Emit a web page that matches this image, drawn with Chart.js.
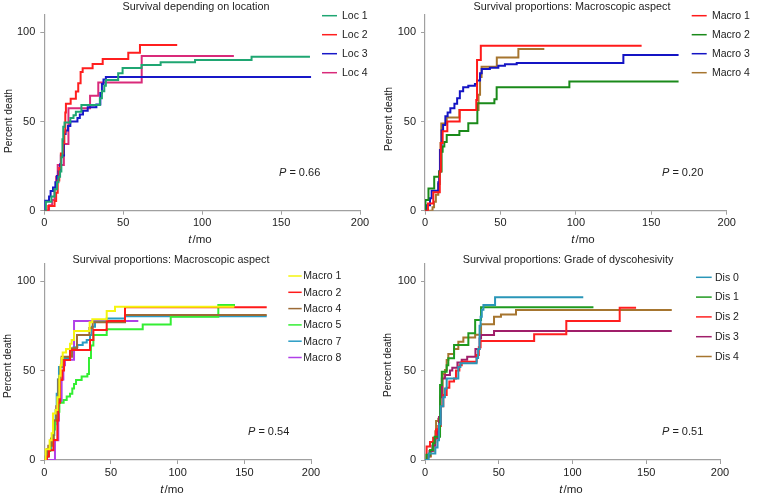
<!DOCTYPE html>
<html>
<head>
<meta charset="utf-8">
<script src="https://cdn.jsdelivr.net/npm/chart.js@4.4.1/dist/chart.umd.min.js"></script>
<style>
  body { margin: 0; background: #fff; width: 761px; height: 499px; position: relative; overflow: hidden; }
  canvas { position: absolute; }
</style>
</head>
<body>
<canvas id="loc" width="380" height="250" style="left:0;top:0"></canvas>
<canvas id="macroA" width="381" height="250" style="left:380px;top:0"></canvas>
<canvas id="macroB" width="380" height="249" style="left:0;top:250px"></canvas>
<canvas id="dis" width="381" height="249" style="left:380px;top:250px"></canvas>
<script>
// axis ticks shared by all four panels
const xTicks = [0, 50, 100, 150, 200];
const yTicks = [0, 50, 100];

// panel titles, legend labels and log-rank P values
const titles = ['Survival depending on location', 'Survival proportions: Macroscopic aspect',
                'Survival proportions: Macroscopic aspect', 'Survival proportions: Grade of dyscohesivity'];
const locLabels = ['Loc 1', 'Loc 2', 'Loc 3', 'Loc 4'];
const macroALabels = ['Macro 1', 'Macro 2', 'Macro 3', 'Macro 4'];
const macroBLabels = ['Macro 1', 'Macro 2', 'Macro 4', 'Macro 5', 'Macro 7', 'Macro 8'];
const disLabels = ['Dis 0', 'Dis 1', 'Dis 2', 'Dis 3', 'Dis 4'];
const pValues = ['0.66', '0.20', '0.54', '0.51'];

// step points [months, percent death]
const loc1 = [[0,0],[1,5],[4.5,8],[6.5,12],[8,16],[9,19],[10,22],[10.8,30],[11.5,40],[12,47],[12.8,49.5],[16.5,52],[18.5,53.5],[20,55.5],[23.5,59.3],[35.2,63],[36.5,67],[38,70],[39,73.3],[46.8,77],[49.6,80],[61.6,81.7],[73.7,83.2],[95.5,84.5],[131.3,86.3],[168.3,86.3]];
const loc2 = [[0,0],[2.5,2.6],[6.5,5.5],[7.5,10],[8.5,17],[9.5,24],[10.5,32],[12,38],[12.7,44],[13.3,55],[13.7,60],[16.7,62.7],[20,66.8],[21.5,71.5],[23,77.8],[24.3,79.9],[30.6,82.3],[37,85],[53.2,88.6],[60.6,92.9],[84.2,92.9]];
const loc3 = [[0,0],[0.5,5.6],[3,8],[4,11],[5.5,13],[7,16],[8,19.5],[9,22],[10,26],[10.5,31],[12.5,43],[13.5,45],[15,47.5],[16.5,50],[21,52],[22.5,54],[24.5,56],[27.5,58],[33,59.5],[35.5,66],[36.5,71],[37.5,73.5],[39,75],[169,75]];
const loc4 = [[0,0],[3,3],[5,6],[6.5,12],[7.5,19],[8.5,25.6],[12.4,37.4],[15.3,57.4],[29,64.5],[34.2,71.9],[61.7,86.7],[120.1,86.7]];

const macroA1 = [[0,0],[2,4],[5.5,10.3],[9.8,22],[10.5,38],[11.7,44.5],[14.8,50],[23,56.4],[34,62],[34.5,84.5],[37,92.5],[143.6,92.5]];
const macroA2 = [[0,0],[0.3,6],[2.3,12.5],[6.1,19.1],[9.4,22],[11,33],[11.7,36],[12.8,38.5],[14.4,42.5],[22.8,44.7],[28.7,49],[34.7,60.2],[46,62.5],[47.5,69.2],[95.7,72.5],[168.1,72.5]];
const macroA3 = [[0,0],[1,3],[3.3,7],[4.4,11.2],[8.8,16],[9.4,22],[9.9,34],[11,45],[12,48],[13.5,53],[15,55],[16.8,57.5],[19.5,60],[21.3,63],[23.1,67],[25.3,69.2],[28.7,70],[33.1,71],[34.5,73],[36.5,77],[37.6,79.4],[43,80.2],[48.6,81.2],[53,82.1],[60.8,82.8],[131.5,87.3],[168.1,87.3]];
const macroA4 = [[0,0],[5,2],[6,5],[7.2,9],[8.8,15],[9.8,22],[10.3,38],[10.8,48.9],[14.4,52.2],[22.8,56.5],[35.5,65],[36.5,75],[37.5,80.7],[47.6,85.9],[61.9,90.7],[79.1,90.7]];

const macroB1 = [[0,0],[1,6],[4,11],[5.5,15],[6.5,26],[8.5,28],[9.8,35],[11.3,47],[12.2,53],[13,57],[13.8,60],[16.3,62],[19.3,65],[20.5,67],[22.3,72],[34,77],[36,78.7],[46.8,83.3],[53,85.6],[142.5,85.6]];
const macroB2 = [[0,0],[2,2],[3.5,5.5],[6.8,11.2],[9.8,22],[10.5,32],[11.8,44.7],[13.5,50],[14.8,55.9],[19.3,61.5],[34.3,67],[36.8,72.6],[46.8,77.7],[60.5,85.4],[166.8,85.4]];
const macroB4 = [[0,0],[1,2],[2,6],[3,8],[5,12],[7,22],[9,30],[10.5,45],[12,52],[13,57.7],[20.8,62.4],[24.5,69.8],[33.8,73.7],[36.3,77],[60.5,81],[166.8,81]];
const macroB5 = [[0,0],[1.5,2],[3,5],[4.5,8],[6,12],[7,17],[8,22],[9.5,27],[11.3,32],[14.5,33.5],[16.8,35.5],[19.3,37],[21,40],[22.3,42.5],[23.8,44.7],[28,46.6],[32.3,48],[33.5,57],[35,64],[36.8,69.8],[46.8,73.1],[73.8,75.7],[94.8,80],[130.5,86.6],[143,86.6]];
const macroB7 = [[0,0],[1,2],[3,6],[5,10],[6.5,14],[7.5,20],[8.5,28],[9.3,37],[10.2,45],[11,52],[13,57],[19.3,62],[22,63],[24.8,64.2],[28.8,65.7],[31.8,67],[34.3,69.8],[35.5,74.5],[38,77.2],[46.8,79.1],[60.5,80.3],[166.8,80.3]];
const macroB8 = [[0,0],[8,11],[10.5,22],[11,33],[13,45],[14.3,53],[15.5,56],[22.3,77.7],[70.5,77.7]];

const dis0 = [[0,0],[2.5,3.6],[7,7],[8.5,11],[9.5,20],[10.7,30],[12.4,35],[13.5,40],[14.7,45.5],[22.6,52],[24,54],[35,57],[36,62],[37,75],[37.7,80],[38.5,84],[39.6,86.6],[47.5,90.9],[107.3,90.9]];
const dis1 = [[0,0],[1,3],[3.4,5.6],[5.3,9.3],[6.5,13],[10.2,41.9],[11.4,49.3],[14.7,53],[15.8,56.9],[19.7,64.2],[29.4,70.8],[34,78.2],[38,85.4],[114.2,85.4]];
const dis2 = [[0,0],[1.1,7.5],[3.4,10],[5.5,12.5],[7.5,17],[9,19],[10.7,30],[12.4,36.3],[14.7,40.4],[16.5,43.8],[19.7,45.6],[21,50],[23.3,53],[24.9,54.9],[35,58.6],[36.5,63],[37.7,66.5],[74,70.2],[95.8,77.6],[132,85.1],[143.1,85.1]];
const dis3 = [[0,0],[1.5,2],[3,5],[5,8],[7,12],[8.5,17],[9.5,24],[10.5,35],[11.4,45.6],[13.6,47.5],[16.9,50],[18.5,51.5],[22,54.4],[24.9,56],[28.6,57.7],[34.2,62],[37,67.9],[38,69.8],[46.8,72.1],[167.3,72.1]];
const dis4 = [[0,0],[2,2],[4,5],[6,10],[7,16],[7.5,21.8],[9,23],[10.5,36],[12,48],[13.6,50.3],[14.7,55.9],[15.8,59.2],[19.7,62],[22.6,66.1],[26,68.4],[34,70],[38,75.9],[46.8,80],[51.5,81.3],[61.7,83.8],[167.3,83.8]];

const FONT = '"Liberation Sans", Arial, sans-serif';
const TEXT = '#222';
const AXIS = '#a0a0a0';

// draws title, legend, axis titles and P value at fixed spots
const panelText = {
  id: 'panelText',
  afterDraw(chart, args, o) {
    const ctx = chart.ctx;
    ctx.save();
    ctx.fillStyle = TEXT;

    ctx.font = '10.8px ' + FONT;
    ctx.textAlign = 'center';
    ctx.textBaseline = 'alphabetic';
    ctx.fillText(o.title, o.titleX, o.titleY);

    // legend
    ctx.font = '10.5px ' + FONT;
    ctx.textAlign = 'left';
    ctx.textBaseline = 'middle';
    chart.data.datasets.forEach((ds, i) => {
      const y = o.legendY + i * o.legendGap;
      ctx.strokeStyle = ds.borderColor;
      ctx.lineWidth = 1.5;
      ctx.beginPath();
      ctx.moveTo(o.legendX, y);
      ctx.lineTo(o.legendX + o.legendLen, y);
      ctx.stroke();
      ctx.fillText(ds.label, o.legendTextX, y + 0.5);
    });

    // y title
    ctx.save();
    ctx.translate(o.yTitleX, o.yTitleY);
    ctx.rotate(-Math.PI / 2);
    ctx.textAlign = 'center';
    ctx.font = '10.3px ' + FONT;
    ctx.fillText('Percent death', 0, 0);
    ctx.restore();

    // x title: italic t + /mo
    ctx.textBaseline = 'alphabetic';
    ctx.font = 'italic 11.5px ' + FONT;
    const tW = ctx.measureText('t').width + 1;
    ctx.font = '11.5px ' + FONT;
    const rest = '/mo';
    const rW = ctx.measureText(rest).width;
    const x0 = o.xTitleX - (tW + rW) / 2;
    ctx.font = 'italic 11.5px ' + FONT;
    ctx.fillText('t', x0, o.xTitleY);
    ctx.font = '11.5px ' + FONT;
    ctx.fillText(rest, x0 + tW, o.xTitleY);

    // P value
    ctx.font = 'italic 11px ' + FONT;
    ctx.fillText('P', o.pX, o.pY);
    const pW = ctx.measureText('P').width;
    ctx.font = '11px ' + FONT;
    ctx.fillText(' = ' + o.p, o.pX + pW, o.pY);
    ctx.restore();
  }
};

function makePanel(id, series, labels, colors, box, text) {
  const canvas = document.getElementById(id);
  new Chart(canvas, {
    type: 'line',
    data: {
      datasets: series.map((s, i) => ({
        label: labels[i],
        data: s.map(p => ({ x: p[0], y: p[1] })),
        borderColor: colors[i],
        borderWidth: 2,
        stepped: true,
        pointRadius: 0,
        fill: false
      }))
    },
    options: {
      responsive: false,
      animation: false,
      devicePixelRatio: 1,
      layout: {
        padding: { left: 0, top: box.top, right: canvas.width - box.right, bottom: canvas.height - box.bottom - 30 }
      },
      plugins: { legend: { display: false }, tooltip: { enabled: false }, panelText: text },
      scales: {
        x: {
          type: 'linear', min: 0, max: 200,
          afterFit: s => { s.height = 30; },
          afterBuildTicks: s => { s.ticks = xTicks.map(v => ({ value: v })); },
          grid: { drawOnChartArea: false, color: AXIS, tickLength: 4 },
          border: { color: AXIS, width: 1.2 },
          ticks: { color: TEXT, font: { family: FONT, size: 11 }, padding: 2 }
        },
        y: {
          min: 0, max: 110,
          afterFit: s => { s.width = box.left; },
          afterBuildTicks: s => { s.ticks = yTicks.map(v => ({ value: v })); },
          grid: { drawOnChartArea: false, color: AXIS, tickLength: 4 },
          border: { color: AXIS, width: 1.2 },
          ticks: { color: TEXT, font: { family: FONT, size: 11 }, padding: 5 }
        }
      }
    },
    plugins: [panelText]
  });
}

makePanel('loc', [loc1, loc2, loc3, loc4], locLabels,
  ['#1fa672', '#ff1f1f', '#1818c8', '#d92a7a'],
  { left: 44.3, right: 360, top: 14.5, bottom: 210.7 },
  { title: titles[0], titleX: 196, titleY: 10, legendX: 322, legendLen: 15, legendTextX: 342, legendY: 15.7, legendGap: 19,
    yTitleX: 9, yTitleY: 121, xTitleX: 200, xTitleY: 243, pX: 279, pY: 176, p: pValues[0] });

makePanel('macroA', [macroA1, macroA2, macroA3, macroA4], macroALabels,
  ['#ff1a1a', '#1a8a1a', '#1414c4', '#a6752f'],
  { left: 45, right: 346.7, top: 14.5, bottom: 210.7 },
  { title: titles[1], titleX: 192, titleY: 10, legendX: 311.7, legendLen: 15, legendTextX: 332, legendY: 15.7, legendGap: 19,
    yTitleX: 9, yTitleY: 119, xTitleX: 203, xTitleY: 243, pX: 282, pY: 176, p: pValues[1] });

makePanel('macroB', [macroB1, macroB2, macroB4, macroB5, macroB7, macroB8], macroBLabels,
  ['#f5f50f', '#ff1a1a', '#9c6a36', '#33ee33', '#2a9cc4', '#b040e8'],
  { left: 44.3, right: 311, top: 13.1, bottom: 210 },
  { title: titles[2], titleX: 171, titleY: 13.3, legendX: 288.3, legendLen: 13.4, legendTextX: 303.3, legendY: 26, legendGap: 16.3,
    yTitleX: 8, yTitleY: 116, xTitleX: 172, xTitleY: 243, pX: 248, pY: 185, p: pValues[2] });

makePanel('dis', [dis0, dis1, dis2, dis3, dis4], disLabels,
  ['#2a96b8', '#1f9a1f', '#ff1f1f', '#a01e6a', '#a6752f'],
  { left: 45, right: 340, top: 13.1, bottom: 210 },
  { title: titles[3], titleX: 188, titleY: 13.3, legendX: 316, legendLen: 15.7, legendTextX: 335, legendY: 27.3, legendGap: 19.8,
    yTitleX: 8, yTitleY: 115, xTitleX: 191, xTitleY: 243, pX: 282, pY: 185, p: pValues[3] });
</script>
</body>
</html>
